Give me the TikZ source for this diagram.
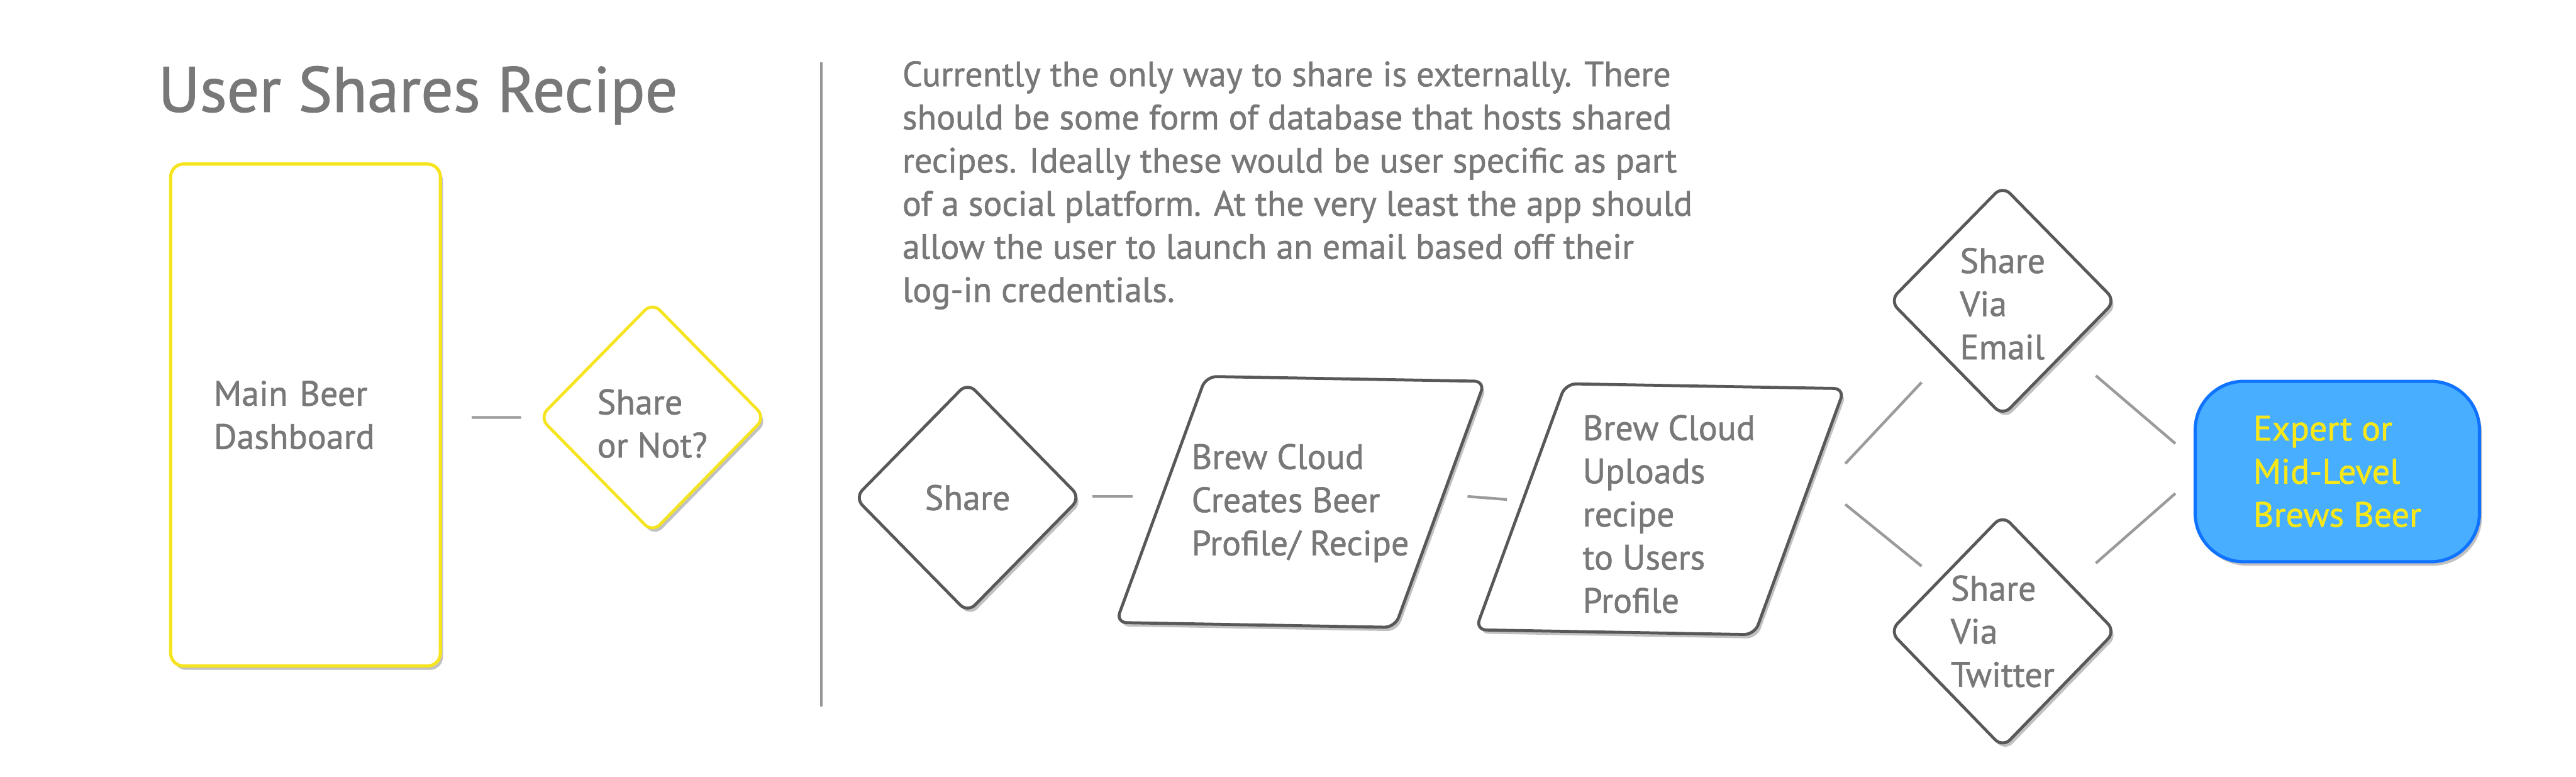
\documentclass[tikz,border=0pt]{standalone}
\usepackage{fontspec}
\setmainfont{PT Sans}[FakeBold=1.1]
\usetikzlibrary{positioning,shapes.geometric,shadows,calc}
\definecolor{inkgrey}{RGB}{120,120,120}
\definecolor{edgegrey}{RGB}{88,88,88}
\definecolor{linkgrey}{RGB}{155,155,155}
\definecolor{ruleline}{RGB}{150,150,150}
\definecolor{signyellow}{RGB}{245,228,30}
\definecolor{skyfill}{RGB}{72,174,255}
\definecolor{skyedge}{RGB}{15,115,255}
\definecolor{beeryellow}{RGB}{248,232,25}

\begin{document}
\begin{tikzpicture}[
  font=\fontsize{16.5}{20.2}\selectfont,text=inkgrey,
  shd/.style={drop shadow={shadow xshift=1.2pt,shadow yshift=-1.8pt,opacity=.35,fill=black!70}},
  dia/.style={diamond,draw=edgegrey,fill=white,line width=1.4pt,rounded corners=5pt,
              minimum width=3.73cm,minimum height=3.8cm,inner sep=0pt,shd},
  para/.style={rectangle,draw=edgegrey,fill=white,line width=1.4pt,rounded corners=5pt,
               minimum width=4.62cm,minimum height=4.05cm,xslant=0.348,rotate=-1,shd},
  txt/.style={align=left,inner sep=0pt},
  link/.style={draw=linkgrey,line width=1.3pt}]

\useasboundingbox (0,0) rectangle (42.41,-12.78);

% left half
\node[anchor=base west,font=\fontsize{30}{36}\selectfont] (title) at (2.48,-1.84) {User Shares Recipe};
\node[draw=signyellow,fill=white,line width=1.5pt,rounded corners=6pt,
      text width=3.02cm,inner xsep=0.71cm,minimum height=8.26cm,align=left,shd] (dash) at (5.03,-6.83)
  {Main Beer\\Dashboard};
\node[dia,draw=signyellow,label={[txt,yshift=-0.1cm]center:{Share\\or Not?}}] (sn) at (10.74,-6.87) {};
\draw[link] ($(dash.east)+(0.49,-0.04)$) -- ($(sn.west)+(-0.27,0)$);

\draw[ruleline,line width=1.2pt] (13.52,-1.03) -- (13.52,-11.63);

% right half
\node[txt,anchor=north west] (note) at (14.85,-1.0)
  {Currently the only way to share is externally. There\\
   should be some form of database that hosts shared\\
   recipes. Ideally these would be user specific as part\\
   of a social platform. At the very least the app should\\
   allow the user to launch an email based off their\\
   log-in credentials.};

\node[dia,label={[txt]center:Share}] (sh) at (15.93,-8.19) {};
\node[para] (pc1) at (21.41,-8.26) {};
\node[txt,anchor=west] (pc1t) at (19.61,-8.28) {Brew Cloud\\Creates Beer\\Profile/ Recipe};
\node[para] (pc2) at (27.33,-8.38) {};
\node[txt,anchor=west] (pc2t) at (26.05,-8.46) {Brew Cloud\\Uploads\\recipe\\to Users\\Profile};

\node[dia,label={[txt,yshift=-0.05cm]center:{Share\\Via\\Email}}] (em) at (32.97,-4.95) {};
\node[dia,minimum height=3.84cm,label={[txt]center:{Share\\Via\\Twitter}}] (tw) at (32.97,-10.39) {};
\node[draw=skyedge,fill=skyfill,line width=1.5pt,rounded corners=0.8cm,
      minimum width=4.68cm,minimum height=2.97cm,align=left,text=beeryellow,shd] (ex) at (38.48,-7.76)
  {Expert or\\Mid-Level\\Brews Beer};

\draw[link] ($(sh.east)+(0.16,0.02)$) -- ($(pc1.center)+(-2.76,0.09)$);
\draw[link] ($(pc1.center)+(2.75,0.09)$) -- ($(pc2.center)+(-2.52,0.16)$);
\draw[link] ($(pc2.center)+(3.05,0.75)$) -- ($(em.south west)+(-0.39,-0.38)$);
\draw[link] ($(pc2.center)+(3.05,0.08)$) -- ($(tw.north west)+(-0.39,0.10)$);
\draw[link] ($(em.south east)+(0.59,-0.27)$) -- ($(ex.west)+(-0.30,0.46)$);
\draw[link] ($(tw.north east)+(0.59,0.15)$) -- ($(ex.west)+(-0.30,-0.36)$);
\end{tikzpicture}
\end{document}
